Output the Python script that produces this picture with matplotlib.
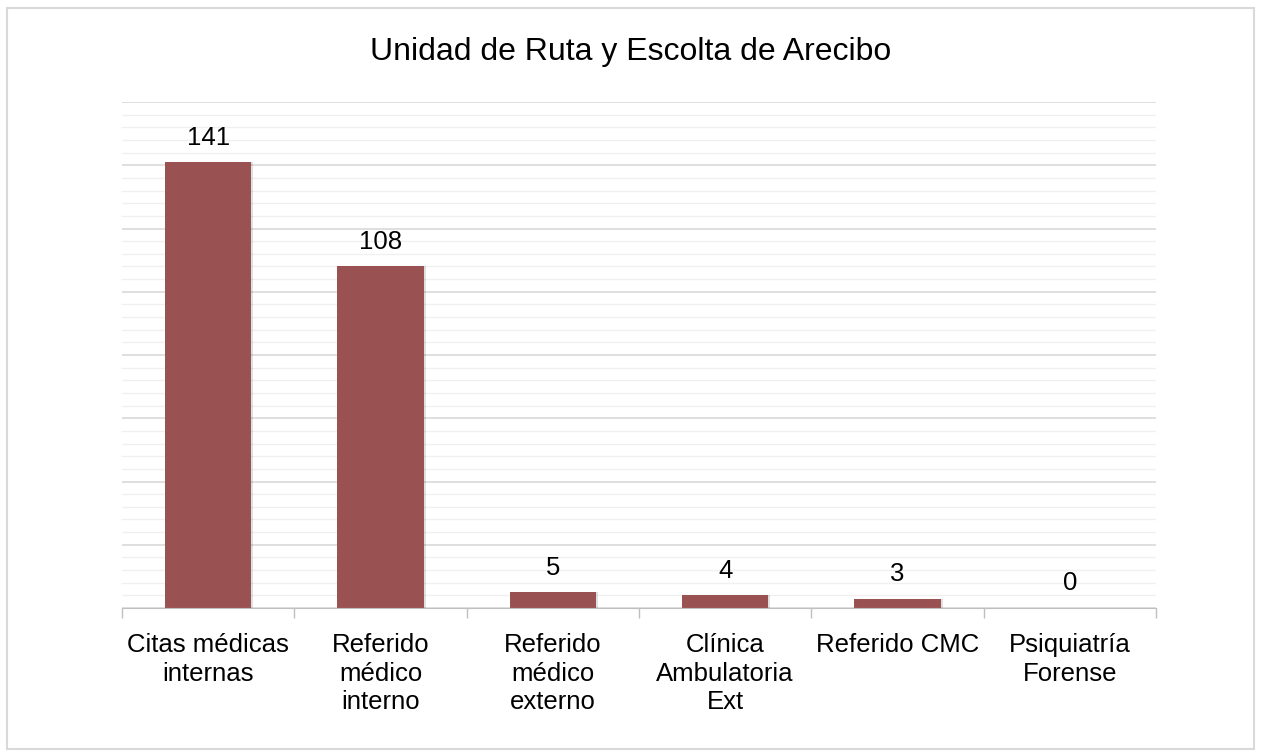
import matplotlib.pyplot as plt
from matplotlib.patches import Rectangle
import numpy as np

categories = ["Citas médicas\ninternas", "Referido\nmédico\ninterno", "Referido\nmédico\nexterno",
              "Clínica\nAmbulatoria\nExt", "Referido CMC", "Psiquiatría\nForense"]
values = [141, 108, 5, 4, 3, 0]
title = "Unidad de Ruta y Escolta de Arecibo"

plt.rcParams['font.family'] = ['Liberation Sans', 'DejaVu Sans']

fig = plt.figure(figsize=(12.61, 7.56), dpi=100)
ax = fig.add_axes([122 / 1261, 1 - 608 / 756, (1156 - 122) / 1261, (608 - 102) / 756])

# outer frame
fig.patches.append(Rectangle((7 / 1261, 7 / 756), 1247 / 1261, 741 / 756, transform=fig.transFigure,
                             fill=False, edgecolor="#D9D9D9", linewidth=1.5))

x = np.arange(len(values))
bar_color = "#9A5151"
# soft shadow
ax.bar(x + 0.012, values, width=0.5, color="#000000", alpha=0.12, zorder=2)
ax.bar(x, values, width=0.5, color=bar_color, zorder=3)

for xi, v in zip(x, values):
    ax.annotate(str(v), (xi, v), xytext=(0, 9), textcoords="offset points",
                ha="center", va="bottom", fontsize=18.5, color="#000000")

ax.set_xlim(-0.5, len(values) - 0.5)
ax.set_ylim(0, 160)
ax.set_yticks(np.arange(0, 161, 20))
ax.set_yticks(np.arange(0, 161, 4), minor=True)
ax.yaxis.grid(True, which="major", color="#D9D9D9", linewidth=1.2, zorder=0)
ax.yaxis.grid(True, which="minor", color="#F0F0F0", linewidth=1.0, zorder=0)
ax.tick_params(axis="y", which="both", left=False, labelleft=False)

ax.set_xticks(x)
ax.set_xticklabels(categories, fontsize=18.5, linespacing=1.24)
ax.set_xticks(np.arange(-0.5, len(values)), minor=True)
ax.tick_params(axis="x", which="major", length=0, pad=18)
ax.tick_params(axis="x", which="minor", length=7, color="#BFBFBF", width=1)

for s in ["top", "left", "right"]:
    ax.spines[s].set_visible(False)
ax.spines["bottom"].set_color("#BFBFBF")
ax.spines["bottom"].set_zorder(4)

fig.text(0.5, 1 - 52 / 756, title, ha="center", va="center", fontsize=23, color="#000000")

fig.savefig("out.png", dpi=100)
